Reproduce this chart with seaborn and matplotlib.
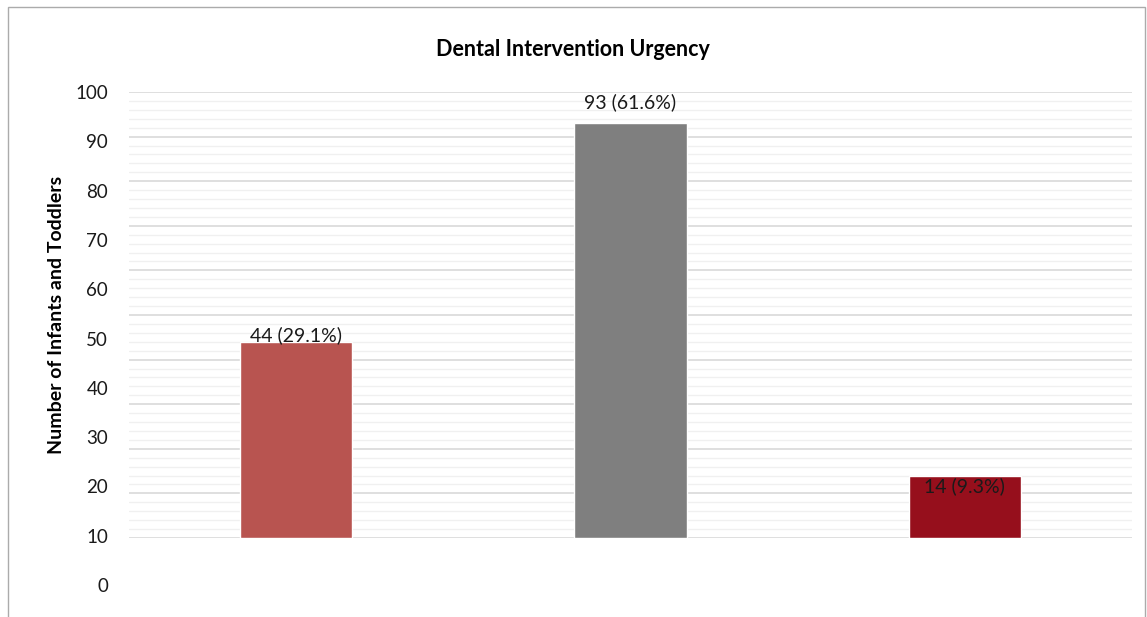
import matplotlib
matplotlib.use("Agg")
import matplotlib.pyplot as plt
import seaborn as sns
import pandas as pd
from matplotlib.patches import Rectangle
from matplotlib.ticker import MultipleLocator

# ---- data ----
categories = ["Immediate", "Soon", "Routine"]
counts = [44, 93, 14]
percents = [29.1, 61.6, 9.3]
bar_colors = ["#B85450", "#7F7F7F", "#960F1C"]
label_offsets_pt = [5, 15, -8]
axis_tick_values = list(range(0, 101, 10))

sns.set_theme(style="white")
plt.rcParams["font.family"] = ["Lato", "DejaVu Sans"]

W, H = 1147, 617
fig = plt.figure(figsize=(W / 100, H / 100), dpi=100)

# border
fig.patches.append(Rectangle((8 / W, -0.1), (1145 - 8) / W, 1.1 - 7 / H,
                             transform=fig.transFigure, fill=False,
                             edgecolor="#ABABAB", lw=1.0, zorder=0))

# bar axes
ax = fig.add_axes([129 / W, (H - 538) / H, (1132 - 129) / W, 446 / H])
df = pd.DataFrame({"cat": categories, "n": counts})
sns.barplot(data=df, x="cat", y="n", hue="cat", palette=bar_colors,
            width=0.335, legend=False, ax=ax, saturation=1)
ax.set_ylim(0, 100)
ax.set_xlim(-0.5, 2.5)
ax.yaxis.set_major_locator(MultipleLocator(10))
ax.yaxis.set_minor_locator(MultipleLocator(2))
ax.grid(which="major", axis="y", color="#D9D9D9", lw=1.2)
ax.grid(which="minor", axis="y", color="#F0F0F0", lw=1.0)
ax.set_axisbelow(True)
for s in ax.spines.values():
    s.set_visible(False)
ax.set_xticks([])
ax.tick_params(axis="y", which="both", length=0, labelleft=False)
ax.set_xlabel("")
ax.set_ylabel("")
ax.set_facecolor("none")

for i, (v, p, off) in enumerate(zip(counts, percents, label_offsets_pt)):
    ax.annotate(f"{v} ({p}%)", xy=(i, v), xytext=(0, off),
                textcoords="offset points", ha="center", va="center",
                fontsize=14, color="#1A1A1A")

# tick label axes (as in reference, spread over a taller range)
ax2 = fig.add_axes([129 / W, (H - 585) / H, (1132 - 129) / W, 493 / H])
ax2.set_ylim(0, 100)
ax2.set_yticks(axis_tick_values)
ax2.set_yticklabels([str(t) for t in axis_tick_values])
ax2.set_xticks([])
ax2.tick_params(axis="y", length=0, pad=15, labelsize=13.5, labelcolor="#1A1A1A")
for s in ax2.spines.values():
    s.set_visible(False)
ax2.patch.set_visible(False)

fig.text(573 / W, 1 - 49 / H, "Dental Intervention Urgency", ha="center",
         va="center", fontsize=15.5, fontweight="bold", color="#000000")
fig.text(57 / W, 1 - 315 / H, "Number of Infants and Toddlers", ha="center",
         va="center", rotation=90, fontsize=14, fontweight="bold", color="#000000")

fig.savefig("out.png", dpi=100, facecolor="white")
